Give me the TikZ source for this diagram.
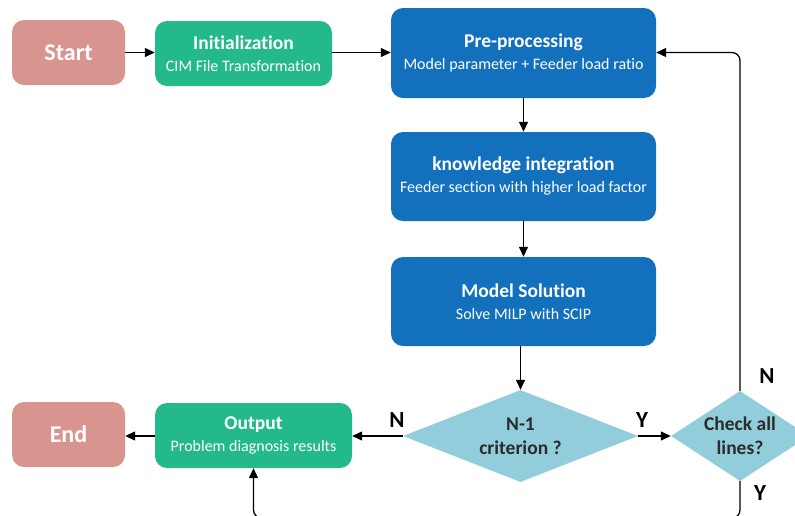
\documentclass[tikz,border=0pt]{standalone}
\usepackage{fontspec}
\setmainfont{Carlito}[Ligatures={NoCommon}]
\usetikzlibrary{shapes.geometric,arrows.meta}
\definecolor{cpink}{HTML}{D8958F}
\definecolor{cgreen}{HTML}{24B98B}
\definecolor{cblue}{HTML}{1270BC}
\definecolor{cdia}{HTML}{92CDDC}
\definecolor{ctxt}{HTML}{2B2B2B}
\tikzset{
  box/.style={rounded corners=12pt, inner sep=0pt, text=white, align=center,
    font=\fontsize{16}{22}\selectfont},
  term/.style={box, fill=cpink, minimum width=113pt, minimum height=65pt,
    font=\fontsize{24}{28}\selectfont\bfseries},
  gbox/.style={box, fill=cgreen},
  bbox/.style={box, fill=cblue},
  dia/.style={diamond, fill=cdia, inner sep=0pt, text=ctxt, align=center,
    font=\fontsize{19.5}{24}\selectfont\bfseries},
  conn/.style={line width=1.3pt, -{Triangle[length=10pt,width=9pt]}},
  lab/.style={font=\fontsize{23}{25}\selectfont\bfseries, text=black},
}
\newcommand{\ttl}[1]{{\fontsize{19.5}{22}\selectfont\bfseries #1}}
\begin{document}
\begin{tikzpicture}[x=1pt,y=-1pt]
\useasboundingbox (0,0) rectangle (795,515);
\clip (0,0) rectangle (795,515);
\node[term] (start) at (68.5,52.5) {Start};
\node[gbox, minimum width=177pt, minimum height=65pt] (init) at (243.5,53.5)
  {\ttl{Initialization}\\CIM File Transformation};
\node[bbox, minimum width=265pt, minimum height=90pt] (pre) at (523.5,53)
  {\ttl{Pre-processing}\\Model parameter + Feeder load ratio};
\node[bbox, minimum width=265pt, minimum height=89pt] (know) at (523.5,176.5)
  {\ttl{knowledge integration}\\Feeder section with higher load factor};
\node[bbox, minimum width=265pt, minimum height=89pt] (model) at (523.5,301.5)
  {\ttl{Model Solution}\\Solve MILP with SCIP};
\node[dia, minimum width=235pt, minimum height=92pt, aspect=2.55] (n1) at (520.5,436)
  {N-1\\criterion ?};
\node[dia, minimum width=138pt, minimum height=90pt, aspect=1.53] (chk) at (740,436)
  {Check all\\lines?};
\node[gbox, minimum width=197pt, minimum height=65pt] (out) at (253.5,435.5)
  {\ttl{Output}\\Problem diagnosis results};
\node[term] (end) at (68.5,434.5) {End};
\coordinate (lowy) at (0,518);
\draw[conn] (start.east) -- (init.west |- start.east);
\draw[conn] (init.east |- start.east) -- (pre.west |- start.east);
\draw[conn] (pre) -- (know);
\draw[conn] (know) -- (model);
\draw[conn] (n1.north |- model.south) -- (n1.north);
\draw[conn] (n1) -- (chk);
\draw[conn] (n1) -- (out.east |- n1.west);
\draw[conn] (out.west |- n1.west) -- (end.east |- n1.west);
\draw[conn, rounded corners=8pt] (chk.north) -- (chk.north |- start.east) -- (pre.east |- start.east);
\draw[conn, rounded corners=8pt] (chk.south) -- (chk.south |- lowy) -- (out.south |- lowy) -- (out.south);
\node[lab] (ly1) at (642,420) {Y};
\node[lab] (ln1) at (397,420) {N};
\node[lab] (ln2) at (767,376) {N};
\node[lab] (ly2) at (760,493) {Y};
\end{tikzpicture}
\end{document}
